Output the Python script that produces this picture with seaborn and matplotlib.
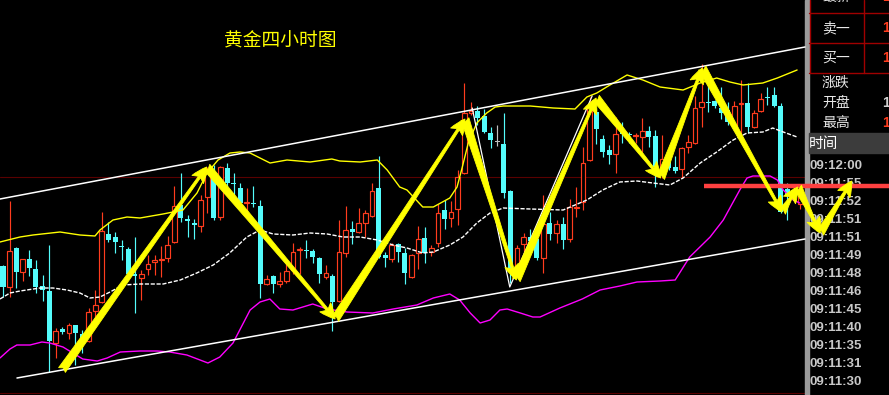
import matplotlib
matplotlib.use("Agg")
import matplotlib.pyplot as plt
import matplotlib.patches as mpatches
import seaborn as sns
import numpy as np

# ---------------- data (screen levels; y axis inverted) -------------
opens = [266,287,248,272,259,269,286,291,343,329,
         333,325,334,341,311,302,234,237,246,249,
         274,278,269,262,260,258,242,205,219,223,
         226,197,173,217,168,183,188,203,203,206,
         284,276,284,281,270,250,250,251,258,277,
         276,301,253,229,232,223,216,188,255,259,
         244,253,277,253,238,252,243,210,218,209,
         173,113,111,116,133,141,144,191,270,244,
         237,239,258,223,233,224,239,208,202,160,
         112,139,150,154,132,134,136,137,131,136,
         173,162,167,169,147,143,107,102,101,108,
         110,126,104,103,127,111,97,95,106,189,
         190,204]
closes = [287,251,272,259,268,287,290,341,331,332,
          325,333,341,312,305,231,240,242,247,274,
          276,274,264,260,259,245,206,218,221,225,
          200,173,218,167,183,184,203,202,204,284,
          279,284,281,271,252,249,251,257,274,273,
          302,252,230,232,223,213,191,257,258,245,
          252,273,255,239,253,248,213,219,212,177,
          113,111,118,132,140,141,193,272,248,237,
          241,258,224,234,224,240,207,207,163,107,
          129,152,155,134,134,135,135,131,137,167,
          159,168,171,148,142,108,102,103,106,113,
          122,106,103,127,113,99,98,106,212,195,
          194,196]
highs = [265,201,247,259,250,260,275,245,328,327,
         323,325,330,308,290,212,222,232,240,247,
         237,270,255,255,246,236,186,173,215,219,
         195,167,165,166,163,173,183,188,186,200,
         275,275,272,263,243,247,240,249,257,265,
         274,220,206,221,208,210,183,156,252,243,
         243,248,254,226,227,245,204,200,201,170,
         83,102,106,109,127,125,113,190,245,233,
         229,233,195,212,220,217,199,187,147,97,
         108,135,145,117,122,132,133,118,126,130,
         135,157,156,147,135,96,64,77,100,87,
         102,101,80,83,110,93,87,87,103,183,
         186,193]
lows = [297,297,288,281,276,293,301,372,358,334,
        339,365,353,342,320,303,242,253,260,276,
        313,300,275,275,277,262,243,222,237,239,
        232,213,220,220,190,195,205,213,207,298,
        285,293,287,283,274,274,258,263,283,279,
        331,302,257,244,233,237,217,258,267,262,
        262,284,278,269,263,256,247,229,227,225,
        174,115,125,133,148,146,198,283,277,253,
        245,260,273,240,243,249,242,217,210,161,
        144,157,164,173,143,143,143,152,147,187,
        178,170,173,178,153,144,127,112,108,119,
        125,127,138,133,128,112,105,107,213,220,
        200,209]

# Bollinger bands (bar index, level)
upper_x = [-0.46,2.58,4.55,8.65,11.68,13.96,14.72,16.69,18.82,20.79,24.28,27.31,29.44,30.96,
           32.63,34.45,35.96,37.48,40.52,43.1,46.6,49.9,51.1,54.2,56.8,58.3,60.2,61.3,63.7,
           65.3,67.8,68.9,69.7,70.6,71.9,73.4,74.7,75.9,80.0,83.5,86.8,88.6,90.1,92.1,94.7,
           97.1,99.7,103.2,105.8,108.3,110.3,112.3,115.3,117.5,120.5]
upper_y = [242,237,235,232,235,236,230,220,217,218,214,210,193,173,
           160,153,152,153,163,160,162,159,161,162,160,170,187,190,207,
           207,198,187,167,143,123,113,107,106,106,108,109,97,93,85,75,
           80,87,90,83,78,82,85,83,78,70]
mid_x = [-0.46,1.06,2.58,5.61,7.59,9.71,11.68,13.2,14.72,16.24,18.2,20.8,24.3,26.9,29.4,
         31.9,34.4,37.0,39.0,41.0,44.0,46.6,49.2,51.6,54.2,56.8,59.2,61.3,63.7,65.3,67.8,
         69.8,71.9,73.9,75.9,80.0,85.0,88.6,91.0,93.6,96.2,98.6,101.2,103.2,105.8,108.3,
         110.8,112.9,115.3,116.8,118.4,120.5]
mid_y = [299,293,291,288,288,290,293,298,297,292,285,284,284,280,273,
         265,253,237,230,234,235,233,234,237,237,240,245,248,253,252,245,
         237,223,213,208,209,210,200,190,182,181,183,185,178,163,152,
         140,133,132,128,132,137]
lower_x = [-0.46,1.06,2.1,4.1,5.9,7.1,9.1,10.6,12.1,14.3,15.8,17.8,20.8,23.4,25.3,27.9,
           29.9,31.1,32.9,34.9,37.5,39.0,40.5,42.0,44.0,45.5,47.0,49.2,52.2,56.1,59.2,
           62.8,65.3,67.8,69.3,70.9,72.4,73.9,75.4,76.5,78.5,80.4,81.5,84.5,87.9,90.6,
           93.6,96.2,99.7,102.0,104.2,107.3,109.3,111.8,112.9,113.8,116.4,117.5,118.4,
           119.9,120.9]
lower_y = [358,349,345,345,342,343,347,353,359,361,358,352,351,351,352,355,
           360,363,357,343,310,302,299,309,310,307,304,309,312,313,309,
           305,298,294,300,313,323,320,310,309,313,317,317,308,299,290,
           286,282,281,280,257,237,220,190,178,176,176,180,190,
           200,203]

# trend channel and zigzag (bar index, level)
chan_up_x, chan_up_y = [-0.46, 121.7], [199, 47]
chan_lo_x, chan_lo_y = [2.12, 121.7], [378, 239]
thin_x, thin_y = [71.2, 76.9, 89.4], [108, 287, 96]
zig_x = [8.95, 30.9, 50.4, 70.1, 77.9, 90.0, 99.8, 106.1, 118.2, 120.6, 124.0, 128.8]
zig_y = [370, 167, 319, 119, 280, 98, 178, 68, 212, 187, 233, 181]
support_level = 186
support_from = 106.4

title = "黄金四小时图"
quote_labels = ["最新", "卖一", "买一"]
info_labels = ["涨跌", "开盘", "最高"]
times = ["09:12:00", "09:11:55", "09:11:52", "09:11:51", "09:11:51", "09:11:49",
         "09:11:48", "09:11:46", "09:11:45", "09:11:40", "09:11:35", "09:11:31", "09:11:30"]

# ---------------- style -----------------
sns.set_theme(style="dark", rc={"axes.facecolor": "black", "figure.facecolor": "black"})
plt.rcParams['font.family'] = ['Noto Sans CJK SC', 'DejaVu Sans']

W, H = 889, 395
fig = plt.figure(figsize=(W / 100, H / 100), dpi=100)
ax = fig.add_axes([0, 0, 1, 1])
ax.set_facecolor("black")
px = 6.59  # pixels per bar
ax.set_xlim(-3 / px, (W - 3) / px)
ax.set_ylim(H, 0)
ax.axis("off")

RED = "#ff3c1e"
CYAN = "#54fcfc"
GRAY = "#c0c0c0"

def fx(p):
    return p / W

def fy(p):
    return 1 - p / H

# dark red guide lines
for lv in (177, 393):
    ax.plot([-3 / px, 802 / px], [lv, lv], color="#5a0000", lw=0.8, zorder=1)

# candles
idx = np.arange(len(opens))
o = np.array(opens, float); c = np.array(closes, float)
hi = np.array(highs, float); lo = np.array(lows, float)
cols = np.where(c < o, RED, np.where(c > o, CYAN, GRAY))
ax.vlines(idx, hi, lo, colors=cols, lw=0.85, zorder=2)
top = np.minimum(o, c); bot = np.maximum(o, c)
height = np.maximum(bot - top, 1.0)
for i in idx:
    if cols[i] == RED:
        ax.bar(i, height[i], bottom=top[i], width=0.72, facecolor="black",
               edgecolor=RED, lw=0.85, zorder=3)
    else:
        ax.bar(i, height[i], bottom=top[i], width=0.76, color=cols[i], lw=0, zorder=3)

# bands
sns.lineplot(x=upper_x, y=upper_y, ax=ax, color="#ffff00", lw=1.0, sort=False, estimator=None, zorder=4)
sns.lineplot(x=mid_x, y=mid_y, ax=ax, color="white", lw=1.0, sort=False, estimator=None,
             dashes=False, zorder=4).lines[-1].set_dashes([3, 1.2])
sns.lineplot(x=lower_x, y=lower_y, ax=ax, color="#ff00ff", lw=1.0, sort=False, estimator=None, zorder=4)

# channel lines
sns.lineplot(x=chan_up_x, y=chan_up_y, ax=ax, color="white", lw=1.1, sort=False, estimator=None, zorder=4)
sns.lineplot(x=chan_lo_x, y=chan_lo_y, ax=ax, color="white", lw=1.1, sort=False, estimator=None, zorder=4)
sns.lineplot(x=thin_x, y=thin_y, ax=ax, color="white", lw=0.9, sort=False, estimator=None, zorder=4)

# right panel
ax.add_patch(mpatches.Rectangle((fx(805), 0), fx(4), 1, transform=ax.transAxes,
                                color="#9a9a9a", zorder=2))
ax.add_patch(mpatches.Rectangle((fx(809), fy(153)), fx(80), 20 / H, transform=ax.transAxes,
                                color="#3c3c3c", zorder=2))
for yy in (13, 43, 73):
    ax.plot([fx(809), 1], [fy(yy), fy(yy)], transform=ax.transAxes, color="#a00000", lw=1, zorder=2)
for xx in (810, 864):
    ax.plot([fx(xx), fx(xx)], [1, fy(73)], transform=ax.transAxes, color="#a00000", lw=1, zorder=2)

for lab, yy, val, vc in zip(quote_labels, (-3, 28, 58), ("1", "1", "1"), (RED, RED, RED)):
    ax.text(fx(822), fy(yy), lab, transform=ax.transAxes, color="#e8e8e8", fontsize=10,
            va="center", ha="left", zorder=3)
    ax.text(fx(882), fy(yy), val, transform=ax.transAxes, color=vc, fontsize=10,
            va="center", ha="left", zorder=3, family=["Liberation Sans"], weight="bold")
for lab, yy, val, vc in zip(info_labels, (83, 103, 123), ("", "1", "1"), (GRAY, "#d0d0d0", RED)):
    ax.text(fx(822), fy(yy), lab, transform=ax.transAxes, color="#e8e8e8", fontsize=10,
            va="center", ha="left", zorder=3)
    ax.text(fx(882), fy(yy), val, transform=ax.transAxes, color=vc, fontsize=10,
            va="center", ha="left", zorder=3, family=["Liberation Sans"], weight="bold")
ax.text(fx(809), fy(144), "时间", transform=ax.transAxes, color="white", fontsize=10.5,
        va="center", ha="left", zorder=3)
for k, t in enumerate(times):
    ax.text(fx(810), fy(166 + 18 * k), t, transform=ax.transAxes, color="#c8c8c8",
            fontsize=9.5, family=["Liberation Sans"], weight="bold",
            va="center", ha="left", zorder=3)

# support line
ax.plot([support_from, (W - 3) / px], [support_level, support_level], color="#ff4040",
        lw=3.2, zorder=5, solid_capstyle="butt")

# zigzag arrows
style = mpatches.ArrowStyle.Fancy(head_length=0.65, head_width=0.6, tail_width=0.35)
for k in range(len(zig_x) - 1):
    ax.annotate("", xy=(zig_x[k + 1], zig_y[k + 1]), xytext=(zig_x[k], zig_y[k]),
                arrowprops=dict(arrowstyle=style, fc="#ffff00", ec="#ffff00", lw=0.6,
                                mutation_scale=17, shrinkA=0, shrinkB=0),
                zorder=6, annotation_clip=False)

# title
ax.text(fx(280), fy(41), title, transform=ax.transAxes, color="#ffff00", fontsize=13.5,
        ha="center", va="center", zorder=7)

fig.savefig("out.png", dpi=100, facecolor="black")
